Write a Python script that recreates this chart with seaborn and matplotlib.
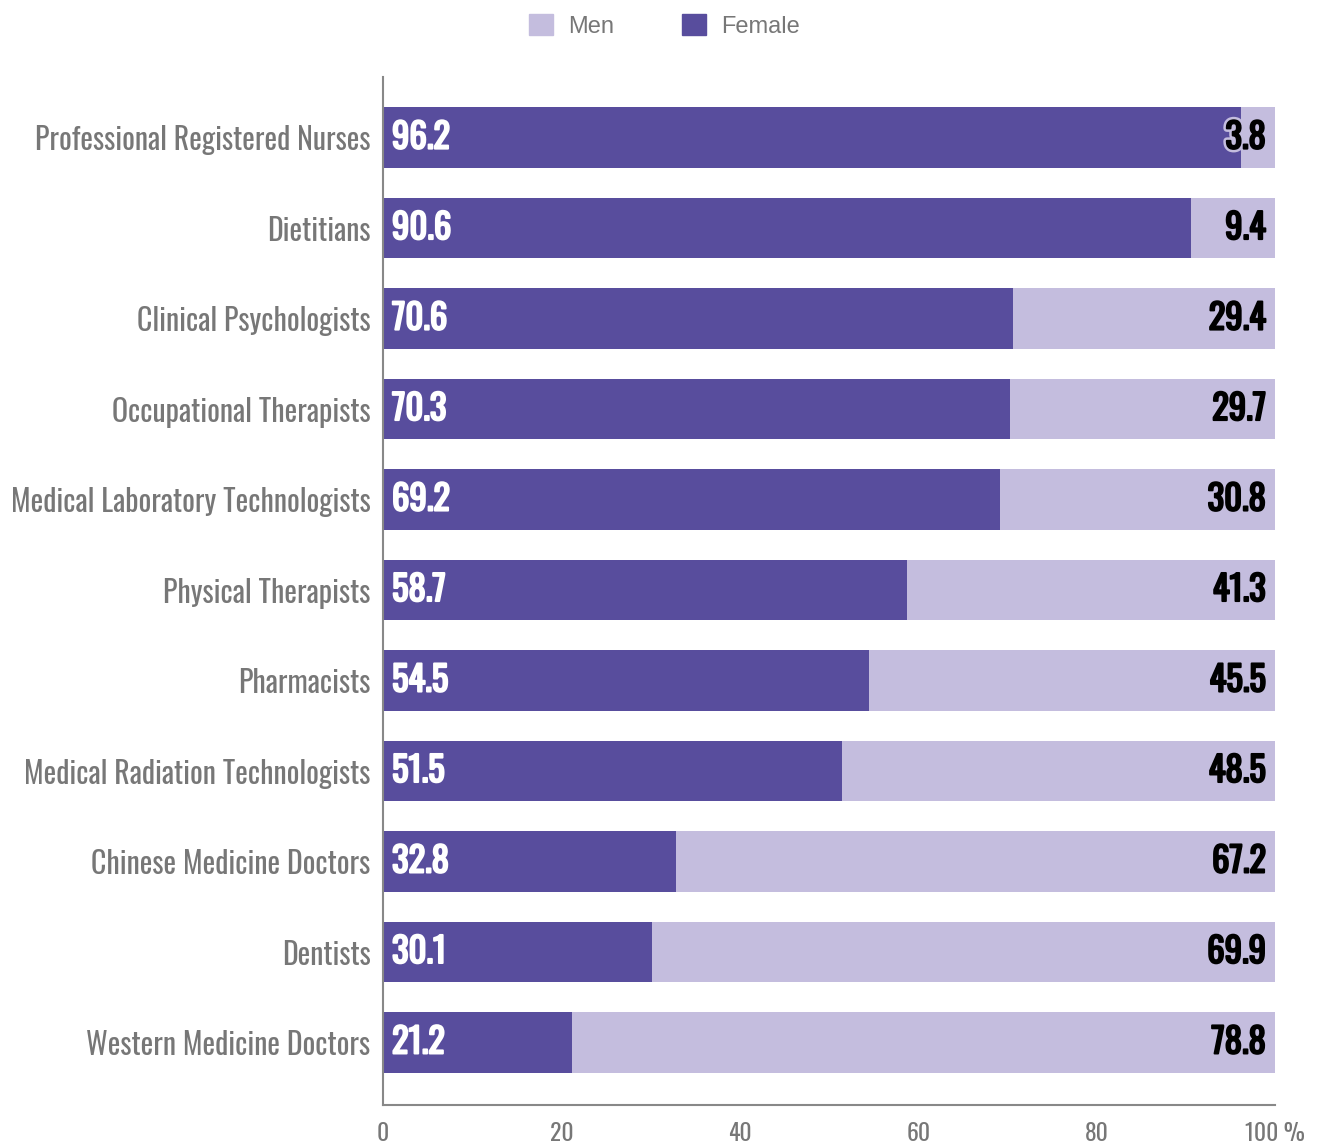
import pandas as pd
import matplotlib.pyplot as plt
import matplotlib.patheffects as pe
from matplotlib.patches import Patch
import seaborn as sns

# Data
professions = ['Professional Registered Nurses', 'Dietitians', 'Clinical Psychologists',
               'Occupational Therapists', 'Medical Laboratory Technologists', 'Physical Therapists',
               'Pharmacists', 'Medical Radiation Technologists', 'Chinese Medicine Doctors',
               'Dentists', 'Western Medicine Doctors']
female = [96.2, 90.6, 70.6, 70.3, 69.2, 58.7, 54.5, 51.5, 32.8, 30.1, 21.2]
men = [3.8, 9.4, 29.4, 29.7, 30.8, 41.3, 45.5, 48.5, 67.2, 69.9, 78.8]
x_ticks = [0, 20, 40, 60, 80, 100]
x_tick_labels = ['0', '20', '40', '60', '80', '100 %']

df = pd.DataFrame({'profession': professions, 'female': female, 'men': men})
df['total'] = df['female'] + df['men']

female_color = '#584D9D'
men_color = '#C4BDDE'
condensed = ['Oswald', 'Roboto Condensed', 'Saira ExtraCondensed', 'DejaVu Sans']

sns.set_style('white')
plt.rcParams['font.family'] = condensed

fig = plt.figure(figsize=(13.37, 11.48), dpi=100)
ax = fig.add_axes([0.2865, 0.0375, 0.6671, 0.8954])

# men bar spans full width, female bar drawn over it
sns.barplot(data=df, y='profession', x='total', orient='h', color=men_color,
            width=0.67, saturation=1, linewidth=0, ax=ax)
sns.barplot(data=df, y='profession', x='female', orient='h', color=female_color,
            width=0.67, saturation=1, linewidth=0, ax=ax)

ax.set_xlim(0, 100)
ax.set_ylim(10.69, -0.67)
ax.set_xlabel('')
ax.set_ylabel('')

# value labels (thin stroke in text colour to make them heavier)
white_fx = [pe.withStroke(linewidth=1.4, foreground='white')]
black_fx = [pe.Stroke(linewidth=5, foreground=men_color),
            pe.Stroke(linewidth=1.4, foreground='black'), pe.Normal()]
for i, row in df.iterrows():
    ax.text(1.0, i, f"{row['female']:.1f}", ha='left', va='center', color='white',
            fontsize=25, fontweight='bold', path_effects=white_fx)
    ax.text(99.0, i, f"{row['men']:.1f}", ha='right', va='center', color='black',
            fontsize=25, fontweight='bold', path_effects=black_fx)

ax.set_xticks(x_ticks)
ax.set_xticklabels(x_tick_labels, fontsize=17, color='#777777', fontweight=300)
ax.tick_params(axis='x', direction='in', length=10, width=1, color='#cccccc', pad=12)
ax.tick_params(axis='y', length=0, pad=9, labelsize=21.5, labelcolor='#777777')
for lbl in ax.get_yticklabels():
    lbl.set_fontweight(300)

for s in ['top', 'right']:
    ax.spines[s].set_visible(False)
ax.spines['left'].set_color('#888888')
ax.spines['left'].set_linewidth(1.5)
ax.spines['bottom'].set_color('#888888')
ax.spines['bottom'].set_linewidth(1.5)

handles = [Patch(color=men_color, label='Men'), Patch(color=female_color, label='Female')]
leg = fig.legend(handles=handles, loc='upper center', bbox_to_anchor=(0.497, 1.006), ncol=2,
                 frameon=False, handlelength=1.0, handleheight=1.0, columnspacing=2.9,
                 handletextpad=0.63, prop={'family': 'Liberation Sans', 'size': 17})
for t in leg.get_texts():
    t.set_color('#777777')

fig.savefig('out.png', dpi=100)
